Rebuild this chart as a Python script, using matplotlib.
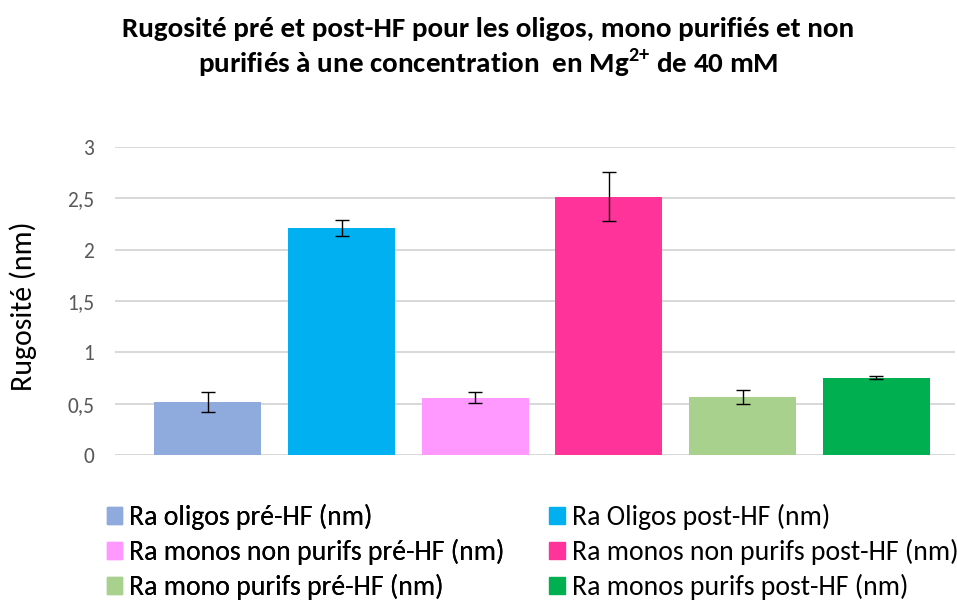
import matplotlib
matplotlib.use("Agg")
import matplotlib.pyplot as plt
from matplotlib import font_manager
from matplotlib.patches import Rectangle

# pick a Calibri-like sans if one is around
names = set(f.name for f in font_manager.fontManager.ttflist)
font = "DejaVu Sans"
for cand in ["Carlito", "Lato", "Liberation Sans"]:
    if cand in names:
        font = cand
        break
plt.rcParams['font.family'] = [font, 'DejaVu Sans']
plt.rcParams['mathtext.fontset'] = 'custom'
plt.rcParams['mathtext.rm'] = font
plt.rcParams['mathtext.bf'] = font + ':bold'

labels = ["Ra oligos pré-HF (nm)", "Ra Oligos post-HF (nm)",
          "Ra monos non purifs pré-HF (nm)", "Ra monos non purifs post-HF (nm)",
          "Ra mono purifs pré-HF (nm)", "Ra monos purifs post-HF (nm)"]
values = [0.515, 2.21, 0.556, 2.515, 0.565, 0.755]
errors = [0.094, 0.076, 0.054, 0.24, 0.067, 0.018]
colors = ["#8FAADC", "#00B0F0", "#FF99FF", "#FF3399", "#A9D18E", "#00B050"]
yticks = [0, 0.5, 1, 1.5, 2, 2.5, 3]
ytick_labels = ["0", "0,5", "1", "1,5", "2", "2,5", "3"]

fig = plt.figure(figsize=(9.57, 6.03), dpi=100)
ax = fig.add_axes([0.120, 0.2454, 0.878, 0.5108])

x = list(range(len(values)))
ax.bar(x, values, width=0.8, color=colors, zorder=2)
ax.errorbar(x, values, yerr=errors, fmt='none', ecolor='black',
            elinewidth=1, capsize=4.7, capthick=1, zorder=3)

ax.set_xlim(-0.696, 5.59)
ax.set_ylim(0, 3)
ax.set_yticks(yticks)
ax.set_yticklabels(ytick_labels)
ax.set_xticks([])
ax.tick_params(axis='y', length=0, pad=15, labelsize=15.5, labelcolor='#595959')
ax.grid(axis='y', color='#d6d6d6', linewidth=1.3, zorder=0)
for s in ax.spines.values():
    s.set_visible(False)

fig.text(0.024, 0.4925, "Rugosité (nm)", rotation=90, ha='center', va='center',
         fontsize=21.5)

fig.text(0.51, 0.952, "Rugosité pré et post-HF pour les oligos, mono purifiés et non",
         ha='center', va='center', fontsize=21, fontweight='bold')
fig.text(0.51, 0.896, r"purifiés à une concentration  en Mg$^{\mathbf{2{+}}}$ de 40 mM",
         ha='center', va='center', fontsize=21, fontweight='bold')

# two legend columns, placed separately
leg_kw = dict(loc='upper left', frameon=False, fontsize=20, borderpad=0,
              borderaxespad=0, handlelength=0.565, handleheight=0.565,
              handletextpad=0.25, labelspacing=0.33)
col1 = [0, 2, 4]
col2 = [1, 3, 5]
leg1 = fig.legend([Rectangle((0, 0), 1, 1, color=colors[i]) for i in col1],
                  [labels[i] for i in col1], bbox_to_anchor=(106.7 / 957, 0.1646), **leg_kw)
fig.add_artist(leg1)
fig.legend([Rectangle((0, 0), 1, 1, color=colors[i]) for i in col2],
           [labels[i] for i in col2], bbox_to_anchor=(549 / 957, 0.1646), **leg_kw)

fig.savefig("out.png", dpi=100)
